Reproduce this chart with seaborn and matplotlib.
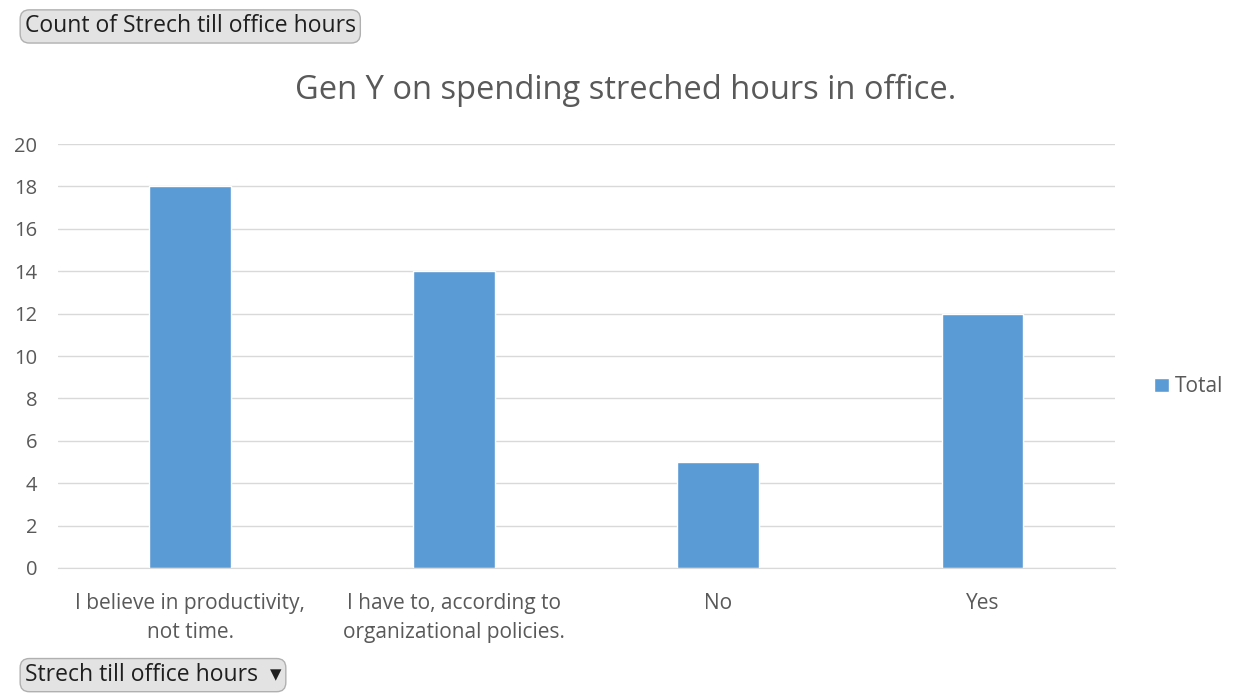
import matplotlib
matplotlib.use("Agg")
import matplotlib.pyplot as plt
import pandas as pd
import seaborn as sns

categories = [
    "I believe in productivity,\nnot time.",
    "I have to, according to\norganizational policies.",
    "No",
    "Yes",
]
totals = [18, 14, 5, 12]
yticks = list(range(0, 21, 2))

sns.set_style("white")
plt.rcParams["font.family"] = ["Open Sans", "DejaVu Sans"]

df = pd.DataFrame({"category": categories, "Total": totals})

fig = plt.figure(figsize=(12.37, 6.96), dpi=100)
ax = fig.add_axes([0.047, 0.184, 0.854, 0.609])

sns.barplot(data=df, x="category", y="Total", color="#5B9BD5",
            width=0.31, saturation=1, ax=ax, label="Total")

ax.set_ylim(0, 20)
ax.set_yticks(yticks)
ax.set_xlim(-0.5, 3.5)
ax.set_xlabel("")
ax.set_ylabel("")
ax.grid(axis="y", color="#D9D9D9", linewidth=1)
ax.set_axisbelow(True)
for side in ["top", "right", "left"]:
    ax.spines[side].set_visible(False)
ax.spines["bottom"].set_color("#D9D9D9")
ax.tick_params(axis="x", colors="#595959", labelsize=15, length=0, pad=18)
ax.tick_params(axis="y", colors="#595959", labelsize=14.5, length=0, pad=15)
for lab in ax.get_xticklabels():
    lab.set_linespacing(1.5)

fig.text(0.506, 0.87, "Gen Y on spending streched hours in office.",
         ha="center", va="center", fontsize=23.5, color="#595959")

leg = ax.legend(loc="center left", bbox_to_anchor=(1.02, 0.427), frameon=False,
                handlelength=0.7, handleheight=0.7, handletextpad=0.3,
                fontsize=15)
for t in leg.get_texts():
    t.set_color("#595959")

btn = dict(boxstyle="round,pad=0.2,rounding_size=0.4", fc="#E3E3E3",
           ec="#B0B0B0", lw=1)
fig.text(0.02, 0.962, "Count of Strech till office hours", ha="left",
         va="center", fontsize=16.5, color="#1F1F1F", bbox=btn)
fig.text(0.02, 0.03, "Strech till office hours  \u25BE", ha="left",
         va="center", fontsize=16.5, color="#1F1F1F", bbox=btn)

fig.savefig("out.png", dpi=100)
